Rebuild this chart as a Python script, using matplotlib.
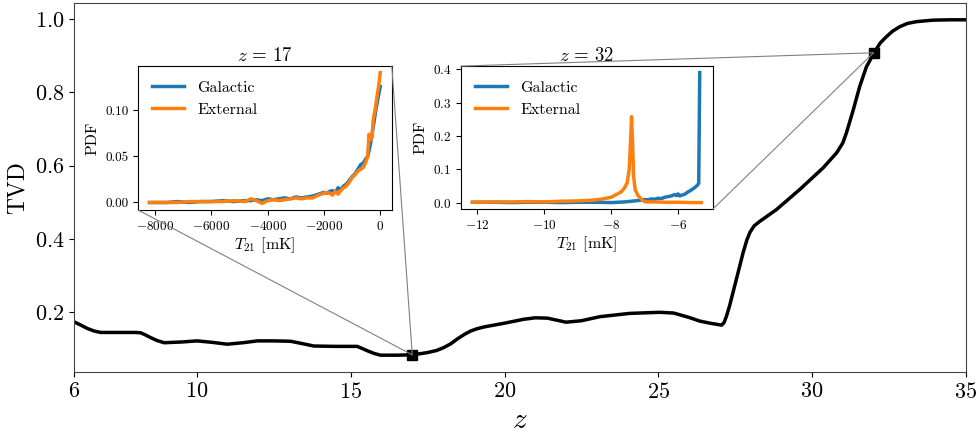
import numpy as np
import matplotlib
matplotlib.use("Agg")
import matplotlib.pyplot as plt
from matplotlib.patches import ConnectionPatch

plt.rcParams["font.family"] = "serif"
plt.rcParams["font.serif"] = ["cmr10"]
plt.rcParams["mathtext.fontset"] = "cm"
plt.rcParams["axes.formatter.use_mathtext"] = True
plt.rcParams["axes.unicode_minus"] = True

# ============================================
# DATOS PRINCIPALES: TVD vs z
# ============================================

z = [6.0, 6.2, 6.43, 6.65, 6.87, 7.5, 8.0, 8.17, 8.33, 8.49, 8.7, 8.93,
     9.5, 10.0, 10.5, 10.98, 11.5, 11.96, 12.5, 13.04, 13.4, 13.8, 14.5,
     15.21, 15.38, 15.54, 15.75, 15.97, 16.5, 17.02, 17.49, 17.8, 18.03,
     18.25, 18.46, 18.7, 18.9, 19.1, 19.33, 19.98, 20.63, 21.0, 21.4,
     22.0, 22.5, 23.1, 24.07, 25.05, 25.5, 26.0, 26.35, 26.7, 27.06,
     27.14, 27.22, 27.32, 27.43, 27.6, 27.76, 27.88, 27.98, 28.12, 28.3,
     28.84, 29.6, 30.36, 30.8, 31.0, 31.12, 31.34, 31.55, 31.77, 32.04,
     32.22, 32.42, 32.62, 32.85, 33.1, 33.4, 33.93, 34.5, 35.0]

tvd = [0.174, 0.166, 0.156, 0.149, 0.145, 0.145, 0.145, 0.144, 0.138,
       0.131, 0.123, 0.117, 0.119, 0.122, 0.118, 0.113, 0.117, 0.122,
       0.122, 0.121, 0.115, 0.108, 0.107, 0.107, 0.101, 0.095, 0.088,
       0.083, 0.083, 0.084, 0.090, 0.096, 0.104, 0.114, 0.127, 0.140,
       0.149, 0.155, 0.160, 0.170, 0.181, 0.185, 0.184, 0.173, 0.177,
       0.188, 0.197, 0.200, 0.198, 0.186, 0.176, 0.170, 0.165, 0.172,
       0.190, 0.218, 0.254, 0.310, 0.363, 0.397, 0.418, 0.436, 0.448,
       0.480, 0.535, 0.594, 0.635, 0.662, 0.690, 0.752, 0.816, 0.870,
       0.911, 0.935, 0.952, 0.967, 0.979, 0.988, 0.993, 0.997, 0.998,
       0.998]

z_marcas = [17, 32]
tvd_marcas = [0.084, 0.908]

# ============================================
# INSET z = 17
# ============================================

T_17 = [-8200, -8000, -7600, -7200, -6800, -6400, -6000, -5600, -5200,
        -4800, -4600, -4400, -4200, -4000, -3800, -3600, -3400, -3200,
        -3000, -2800, -2600, -2400, -2200, -2000, -1900, -1800, -1700,
        -1600, -1500, -1400, -1300, -1200, -1100, -1000, -900, -800,
        -700, -600, -500, -450, -400, -350, -300, -250, -200, -150,
        -100, -50, 0]

gal_17 = [0.000, 0.000, 0.000, 0.001, 0.000, 0.001, 0.001, 0.002, 0.001,
          0.002, 0.002, 0.003, 0.002, 0.004, 0.003, 0.004, 0.005, 0.004,
          0.006, 0.005, 0.006, 0.007, 0.009, 0.011, 0.010, 0.012, 0.013,
          0.011, 0.016, 0.014, 0.018, 0.020, 0.024, 0.028, 0.031, 0.036,
          0.041, 0.043, 0.048, 0.050, 0.056, 0.063, 0.072, 0.082, 0.092,
          0.102, 0.110, 0.118, 0.126]

ext_17 = [0.000, 0.000, 0.000, 0.000, 0.001, 0.001, 0.001, 0.001, 0.002,
          0.001, 0.004, 0.002, -0.001, 0.002, 0.003, 0.002, 0.003, 0.004,
          0.005, 0.004, 0.005, 0.005, 0.008, 0.010, 0.011, 0.010, 0.008,
          0.012, 0.009, 0.013, 0.016, 0.018, 0.022, 0.027, 0.030, 0.034,
          0.036, 0.038, 0.045, 0.050, 0.074, 0.068, 0.070, 0.090, 0.098,
          0.108, 0.118, 0.128, 0.141]

# ============================================
# INSET z = 32
# ============================================

T_32_gal = [-12.15, -11.5, -11.0, -10.5, -10.0, -9.5, -9.0, -8.5, -8.0,
            -7.6, -7.4, -7.2, -7.0, -6.9, -6.8, -6.7, -6.6, -6.5, -6.4,
            -6.3, -6.2, -6.1, -6.05, -6.0, -5.95, -5.9, -5.8, -5.7, -5.6,
            -5.5, -5.42, -5.38, -5.35]

gal_32 = [0.001, 0.001, 0.000, 0.001, 0.001, 0.000, 0.001, 0.001, 0.000,
          0.002, 0.004, 0.006, 0.009, 0.008, 0.011, 0.010, 0.013, 0.012,
          0.016, 0.018, 0.020, 0.024, 0.021, 0.026, 0.020, 0.022, 0.025,
          0.032, 0.038, 0.045, 0.052, 0.058, 0.390]

T_32_ext = [-12.15, -11.5, -11.0, -10.5, -10.0, -9.5, -9.0, -8.6, -8.3,
            -8.0, -7.85, -7.7, -7.6, -7.52, -7.46, -7.42, -7.39, -7.36,
            -7.33, -7.28, -7.2, -7.1, -7.0, -6.9, -6.7, -6.4, -6.0, -5.6,
            -5.3]

ext_32 = [0.001, 0.002, 0.002, 0.003, 0.002, 0.004, 0.005, 0.007, 0.010,
          0.016, 0.024, 0.032, 0.044, 0.060, 0.100, 0.180, 0.258, 0.180,
          0.080, 0.038, 0.022, 0.010, 0.003, 0.002, 0.002, 0.001, 0.001,
          0.000, 0.000]

# ============================================
# FIGURA
# ============================================

fig = plt.figure(figsize=(9.8, 4.32), dpi=100)

ax = fig.add_axes([0.0755, 0.139, 0.910, 0.854])
ax.plot(z, tvd, color="k", lw=2.5)
ax.plot(z_marcas, tvd_marcas, "ks", ms=7)
ax.set_xlim(6, 35)
ax.set_xticks([6, 10, 15, 20, 25, 30, 35])
ax.set_yticks([0.2, 0.4, 0.6, 0.8, 1.0])
ax.tick_params(labelsize=16)
ax.set_xlabel("$z$", fontsize=21)
ax.set_ylabel("TVD", fontsize=17)
for s in ax.spines.values():
    s.set_color("#444444")

# inset 1
ax1 = fig.add_axes([0.1408, 0.514, 0.259, 0.333])
ax1.plot(T_17, gal_17, color="#1f77b4", lw=2.5, label="Galactic")
ax1.plot(T_17, ext_17, color="#ff7f0e", lw=2.5, label="External")
ax1.set_title(r"$z\,=\,17$", fontsize=13.5, pad=4)
ax1.set_xlabel("$T_{21}$ [mK]", fontsize=11.5, labelpad=2)
ax1.set_ylabel("PDF", fontsize=11.5, labelpad=4)
ax1.set_yticks([0.0, 0.05, 0.10])
ax1.set_yticklabels(["0.00", "0.05", "0.10"])
ax1.tick_params(labelsize=9.5)
ax1.legend(loc="upper left", frameon=False, fontsize=11.5, handlelength=2)

# inset 2
ax2 = fig.add_axes([0.4704, 0.516, 0.257, 0.331])
ax2.plot(T_32_gal, gal_32, color="#1f77b4", lw=2.5, label="Galactic")
ax2.plot(T_32_ext, ext_32, color="#ff7f0e", lw=2.5, label="External")
ax2.set_title(r"$z\,=\,32$", fontsize=13.5, pad=4)
ax2.set_xlabel("$T_{21}$ [mK]", fontsize=11.5, labelpad=2)
ax2.set_ylabel("PDF", fontsize=11.5, labelpad=4)
ax2.set_xticks([-12, -10, -8, -6])
ax2.set_yticks([0.0, 0.1, 0.2, 0.3, 0.4])
ax2.tick_params(labelsize=9.5)
ax2.legend(loc="upper left", frameon=False, fontsize=11.5, handlelength=2)

# lineas de conexion
conexiones = [(ax1, (0, 0), 0), (ax1, (1, 1), 0),
              (ax2, (0, 1), 1), (ax2, (1, 0), 1)]
for axi, esquina, k in conexiones:
    con = ConnectionPatch(xyA=esquina, coordsA=axi.transAxes,
                          xyB=(z_marcas[k], tvd_marcas[k]), coordsB=ax.transData,
                          color="gray", lw=0.8)
    fig.add_artist(con)

fig.savefig("out.png", dpi=100)
